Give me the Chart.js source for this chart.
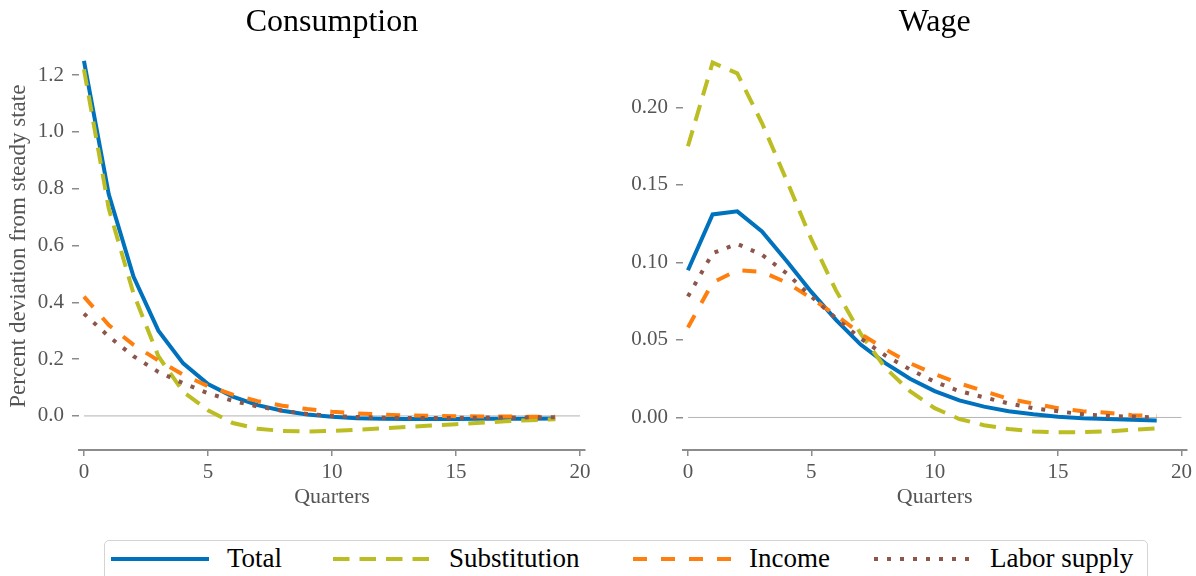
<!DOCTYPE html>
<html>
<head>
<meta charset="utf-8">
<script src="https://cdn.jsdelivr.net/npm/chart.js@4"></script>
<style>
html, body { margin: 0; padding: 0; background: #fff; }
body { width: 1196px; height: 576px; position: relative; overflow: hidden; font-family: "Liberation Serif", serif; }
#consChart { position: absolute; left: 0; top: 0; }
#wageChart { position: absolute; left: 600px; top: 0; }
#legend { position: absolute; left: 104px; top: 540px; width: 1044px; height: 50px;
          border: 1.5px solid #d4d4d4; border-radius: 5px; box-sizing: border-box; background: #fff; }
.item { position: absolute; top: 0; height: 35px; display: flex; align-items: center; font-size: 27px; color: #000; white-space: nowrap; }
.item canvas { margin-right: 18px; }
</style>
</head>
<body>
<canvas id="consChart" width="600" height="520"></canvas>
<canvas id="wageChart" width="596" height="520"></canvas>
<div id="legend"></div>

<script>
// quarters after the shock
const quarters = [0, 1, 2, 3, 4, 5, 6, 7, 8, 9, 10, 11, 12, 13, 14, 15, 16, 17, 18, 19];
const seriesNames = ['Total', 'Substitution', 'Income', 'Labor supply'];

// Consumption responses
const consTotal  = [1.25, 0.78, 0.49, 0.30, 0.185, 0.112, 0.068, 0.038, 0.018, 0.005, -0.003, -0.008, -0.010, -0.011, -0.011, -0.011, -0.010, -0.010, -0.010, -0.009];
const consSubst  = [1.22, 0.73, 0.43, 0.21, 0.085, 0.02, -0.025, -0.045, -0.053, -0.055, -0.053, -0.049, -0.044, -0.039, -0.034, -0.029, -0.024, -0.019, -0.015, -0.012];
const consIncome = [0.42, 0.32, 0.25, 0.195, 0.145, 0.105, 0.075, 0.052, 0.036, 0.024, 0.015, 0.009, 0.005, 0.002, 0.0, -0.001, -0.002, -0.002, -0.003, -0.003];
const consLabor  = [0.36, 0.28, 0.21, 0.155, 0.115, 0.08, 0.053, 0.033, 0.018, 0.007, 0.0, -0.004, -0.006, -0.007, -0.007, -0.007, -0.006, -0.006, -0.005, -0.005];

// Wage responses
const wageTotal  = [0.095, 0.131, 0.133, 0.120, 0.101, 0.081, 0.063, 0.047, 0.035, 0.025, 0.017, 0.011, 0.007, 0.004, 0.002, 0.0005, -0.0005, -0.001, -0.0015, -0.002];
const wageSubst  = [0.175, 0.229, 0.222, 0.190, 0.153, 0.115, 0.082, 0.054, 0.032, 0.017, 0.006, -0.001, -0.005, -0.0075, -0.009, -0.0095, -0.0095, -0.009, -0.008, -0.007];
const wageIncome = [0.058, 0.087, 0.095, 0.094, 0.087, 0.077, 0.066, 0.054, 0.044, 0.035, 0.028, 0.022, 0.017, 0.012, 0.009, 0.006, 0.004, 0.003, 0.0015, 0.001];
const wageLabor  = [0.078, 0.106, 0.112, 0.105, 0.093, 0.078, 0.064, 0.051, 0.040, 0.031, 0.023, 0.017, 0.013, 0.009, 0.006, 0.004, 0.002, 0.001, 0.0005, 0.0];

// tick labels
const quarterTicks = [0, 5, 10, 15, 20];
const consTicks = [0, 0.2, 0.4, 0.6, 0.8, 1.0, 1.2];
const wageTicks = [0, 0.05, 0.10, 0.15, 0.20];
const zeroLine = [0, 20];

// styles
const colors = ['#0072bd', '#bcbd22', '#ff7f0e', '#8c564b'];
const dashes = [[], [16.5, 10], [14, 14], [4, 9]];
const FONT = '"Liberation Serif", "Times New Roman", serif';
const GREY = '#555';
const AXIS = '#8c8c8c';

function buildDatasets(series) {
    const sets = series.map((vals, i) => ({
        label: seriesNames[i],
        data: vals.map((v, j) => ({ x: quarters[j], y: v })),
        borderColor: colors[i],
        borderWidth: 4,
        borderDash: dashes[i],
        borderCapStyle: 'butt',
        pointRadius: 0,
        tension: 0,
        fill: false,
        order: 4 - i
    }));
    sets.push({
        label: 'zero',
        data: zeroLine.map(x => ({ x: x, y: 0 })),
        borderColor: '#b4b4b4',
        borderWidth: 1,
        pointRadius: 0,
        order: 10
    });
    return sets;
}

function makeChart(id, title, series, yTicks, yMin, yMax, decimals, yTitle, axisWidth, padRight) {
    const ctx = document.getElementById(id).getContext('2d');
    return new Chart(ctx, {
        type: 'line',
        data: { datasets: buildDatasets(series) },
        options: {
            responsive: false,
            animation: false,
            layout: { padding: { left: 0, right: padRight, top: 0, bottom: 0 } },
            plugins: {
                legend: { display: false },
                tooltip: { enabled: false },
                title: {
                    display: true,
                    text: title,
                    fullSize: false,
                    color: '#000',
                    font: { family: FONT, size: 32, weight: 'normal' },
                    padding: { top: 3, bottom: 1 }
                }
            },
            scales: {
                x: {
                    type: 'linear',
                    min: -0.2,
                    max: 20.2,
                    afterBuildTicks: s => { s.ticks = quarterTicks.map(v => ({ value: v })); },
                    afterFit: s => { s.height = 70; },
                    grid: { drawOnChartArea: false, drawTicks: true, tickLength: 6, color: AXIS, lineWidth: 1.5 },
                    border: { display: true, color: AXIS, width: 2 },
                    ticks: { color: GREY, padding: 4, font: { family: FONT, size: 21 }, callback: v => String(v) },
                    title: { display: true, text: 'Quarters', color: GREY, font: { family: FONT, size: 22 }, padding: { top: 0, bottom: 10 } }
                },
                y: {
                    min: yMin,
                    max: yMax,
                    afterBuildTicks: s => { s.ticks = yTicks.map(v => ({ value: v })); },
                    afterFit: s => { s.width = axisWidth; },
                    grid: { drawOnChartArea: false, drawTicks: true, tickLength: 7, color: AXIS, lineWidth: 1.5 },
                    border: { display: false },
                    ticks: { color: GREY, padding: 8, font: { family: FONT, size: 21 }, callback: v => v.toFixed(decimals) },
                    title: { display: !!yTitle, text: yTitle, color: GREY, font: { family: FONT, size: 23 }, padding: { top: 5, bottom: 0 } }
                }
            }
        }
    });
}

makeChart('consChart', 'Consumption', [consTotal, consSubst, consIncome, consLabor],
          consTicks, -0.12, 1.315, 1, 'Percent deviation from steady state', 79, 15);
makeChart('wageChart', 'Wage', [wageTotal, wageSubst, wageIncome, wageLabor],
          wageTicks, -0.021, 0.242, 2, '', 83, 9);

// shared legend below both panels
const legendLeft = [6, 228, 528, 769];
const legend = document.getElementById('legend');
seriesNames.forEach((name, i) => {
    const item = document.createElement('div');
    item.className = 'item';
    item.style.left = legendLeft[i] + 'px';
    const c = document.createElement('canvas');
    c.width = 98; c.height = 10;
    const g = c.getContext('2d');
    g.strokeStyle = colors[i];
    g.lineWidth = 4;
    g.setLineDash(dashes[i]);
    g.beginPath(); g.moveTo(0, 5); g.lineTo(98, 5); g.stroke();
    item.appendChild(c);
    const span = document.createElement('span');
    span.textContent = name;
    item.appendChild(span);
    legend.appendChild(item);
});
</script>
</body>
</html>
